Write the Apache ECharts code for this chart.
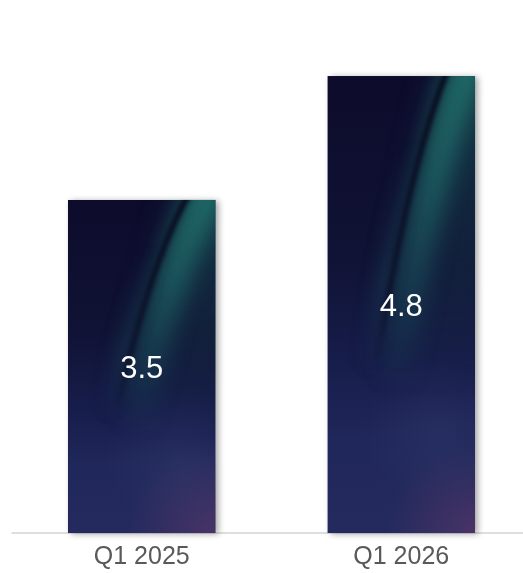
<!DOCTYPE html>
<html><head><meta charset="utf-8">
<script src="https://cdn.jsdelivr.net/npm/echarts@6/dist/echarts.min.js"></script>
<style>html,body{margin:0;padding:0;background:#fff}#c{width:523px;height:573px}</style>
</head><body><div id="c"></div>
<script>
const categories = ['Q1 2025', 'Q1 2026'];
const values = [3.5, 4.8];

const chart = echarts.init(document.getElementById('c'), null, {renderer: 'canvas'});
const FONT = 'Liberation Sans, Arial, sans-serif';
const fallback = new echarts.graphic.LinearGradient(0, 0, 0, 1, [
  {offset: 0, color: '#0d0b2b'}, {offset: 0.5, color: '#131a40'}, {offset: 1, color: '#262b5e'}
]);
function buildOption(color) {
  return {
    animation: false,
    grid: {left: 12, width: 519, top: 57, bottom: 40, containLabel: false, outerBoundsMode: 'none'},
    xAxis: {
      type: 'category', data: categories,
      axisLine: {show: true, lineStyle: {color: '#d4d4d4', width: 1.5}},
      axisTick: {show: false},
      axisLabel: {color: '#595959', fontSize: 25, fontFamily: FONT, margin: 12}
    },
    yAxis: {type: 'value', min: 0, max: 5, show: false, splitLine: {show: false}},
    series: [{
      type: 'bar', data: values, barWidth: 148,
      itemStyle: {color: color, shadowBlur: 6, shadowColor: 'rgba(0,0,0,0.35)', shadowOffsetX: 3, shadowOffsetY: 1},
      label: {show: true, position: 'inside', color: '#ffffff', fontSize: 31, fontFamily: FONT, offset: [0, 3]}
    }]
  };
}
chart.setOption(buildOption(fallback));

function drawBar(ctx, x, y, w, h) {
  ctx.save();
  ctx.beginPath(); ctx.rect(x, y, w, h); ctx.clip();
  let g = ctx.createLinearGradient(0, y, 0, y + h);
  g.addColorStop(0, '#0d0b2c');
  g.addColorStop(0.4, '#101335');
  g.addColorStop(0.62, '#171d4a');
  g.addColorStop(0.8, '#20275a');
  g.addColorStop(1, '#242a5e');
  ctx.fillStyle = g; ctx.fillRect(x, y, w, h);
  let r = ctx.createRadialGradient(x + w, y + h, 0, x + w, y + h, w * 0.6);
  r.addColorStop(0, 'rgba(85,55,105,0.75)');
  r.addColorStop(1, 'rgba(85,55,105,0)');
  ctx.fillStyle = r; ctx.fillRect(x, y, w, h);
  let r2 = ctx.createRadialGradient(x + w * 0.75, y + h * 0.78, 0, x + w * 0.75, y + h * 0.78, w * 0.5);
  r2.addColorStop(0, 'rgba(55,65,115,0.3)');
  r2.addColorStop(1, 'rgba(55,65,115,0)');
  ctx.fillStyle = r2; ctx.fillRect(x, y, w, h);
  const P0 = [x + 0.82 * w, y - 0.02 * h], C = [x + 0.545 * w, y + 0.20 * h], P2 = [x + 0.33 * w, y + 0.64 * h];
  function curve(dx, dy) {
    dy = dy || 0;
    ctx.beginPath();
    ctx.moveTo(P0[0] + dx, P0[1] + dy);
    ctx.quadraticCurveTo(C[0] + dx, C[1] + dy, P2[0] + dx, P2[1] + dy);
  }
  // dark-teal wash right side upper
  ctx.filter = 'blur(14px)';
  let wg = ctx.createLinearGradient(0, y, 0, y + h * 0.7);
  wg.addColorStop(0, 'rgba(22,70,78,0.8)');
  wg.addColorStop(0.5, 'rgba(20,50,68,0.5)');
  wg.addColorStop(1, 'rgba(20,45,65,0)');
  ctx.fillStyle = wg;
  ctx.beginPath();
  ctx.moveTo(P0[0], P0[1] - 20);
  ctx.quadraticCurveTo(C[0], C[1], P2[0], P2[1]);
  ctx.lineTo(x + w + 30, P2[1]);
  ctx.lineTo(x + w + 30, y - 20);
  ctx.closePath(); ctx.fill();
  // teal glow band right of streak
  ctx.filter = 'blur(10px)';
  let tg = ctx.createLinearGradient(0, y, 0, y + h * 0.7);
  tg.addColorStop(0, 'rgba(32,110,105,0.9)');
  tg.addColorStop(0.35, 'rgba(30,100,100,0.75)');
  tg.addColorStop(0.7, 'rgba(28,85,95,0.45)');
  tg.addColorStop(1, 'rgba(25,70,85,0)');
  ctx.strokeStyle = tg; ctx.lineWidth = w * 0.22; ctx.lineCap = 'round';
  curve(w * 0.14); ctx.stroke();
  // faint halo left of dark streak
  ctx.filter = 'blur(8px)';
  let hg = ctx.createLinearGradient(0, y + h * 0.15, 0, y + h * 0.65);
  hg.addColorStop(0, 'rgba(30,70,95,0)');
  hg.addColorStop(0.6, 'rgba(30,75,95,0.35)');
  hg.addColorStop(1, 'rgba(30,70,95,0)');
  ctx.strokeStyle = hg; ctx.lineWidth = w * 0.1;
  curve(-w * 0.06); ctx.stroke();
  // dark streak
  ctx.filter = 'blur(2px)';
  let sg = ctx.createLinearGradient(0, y, 0, y + h * 0.64);
  sg.addColorStop(0, 'rgba(8,8,28,0.95)');
  sg.addColorStop(0.75, 'rgba(10,12,35,0.7)');
  sg.addColorStop(1, 'rgba(10,12,35,0)');
  ctx.strokeStyle = sg; ctx.lineWidth = 6; ctx.lineCap = 'butt';
  curve(0); ctx.stroke();
  ctx.filter = 'none';
  ctx.restore();
}

try {
  const tex = document.createElement('canvas');
  tex.width = 523; tex.height = 573;
  const tctx = tex.getContext('2d');
  const bw = 148;
  values.forEach(function (v, i) {
    const top = chart.convertToPixel({seriesIndex: 0}, [i, v]);
    const bot = chart.convertToPixel({seriesIndex: 0}, [i, 0]);
    drawBar(tctx, top[0] - bw / 2, top[1], bw, bot[1] - top[1]);
  });
  chart.setOption(buildOption({image: tex, repeat: 'no-repeat'}), {notMerge: true});
} catch (e) { console.error(e); }
</script>
</body></html>
